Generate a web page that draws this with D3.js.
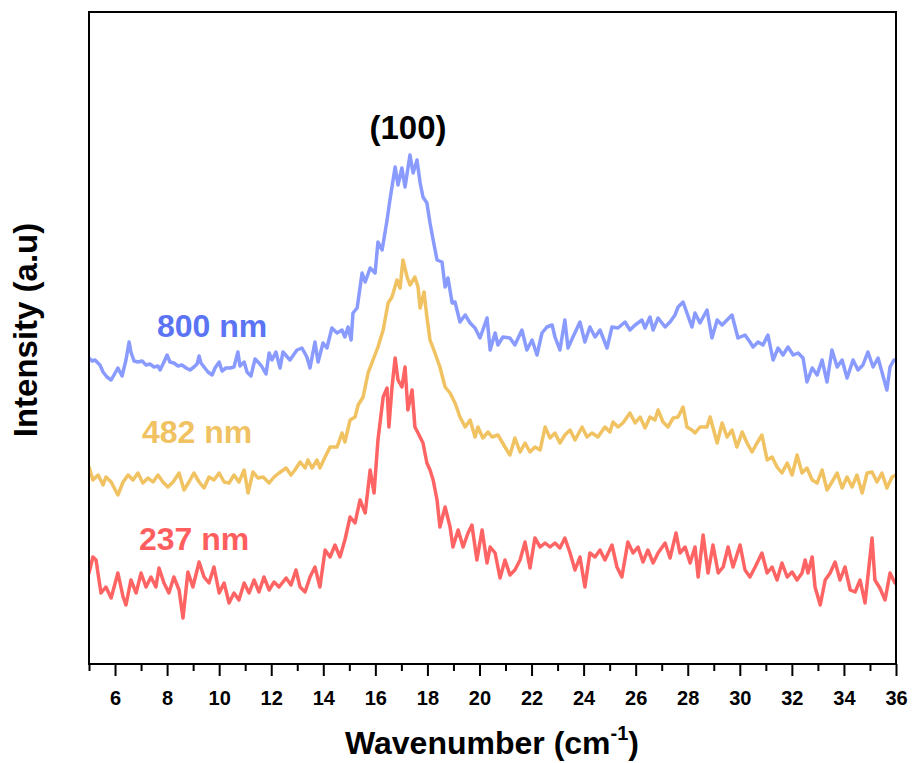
<!DOCTYPE html>
<html><head><meta charset="utf-8">
<script src="https://cdn.jsdelivr.net/npm/d3@7/dist/d3.min.js"></script>
<style>body{margin:0;background:#fff}svg{display:block;font-family:"Liberation Sans",Arial,sans-serif}</style>
</head><body><svg id="c" width="912" height="763"></svg>
<script>
const seriesNames = ["800 nm", "482 nm", "237 nm"];
const xTicksMajor = [6,8,10,12,14,16,18,20,22,24,26,28,30,32,34,36];
const xTicksMinor = [5,7,9,11,13,15,17,19,21,23,25,27,29,31,33,35];

const wn800 = [5.00,5.12,5.23,5.42,5.54,5.69,5.85,5.96,6.11,6.27,6.42,6.54,6.61,6.73,6.88,7.04,7.19,7.34,7.50,7.65,7.73,7.88,8.00,8.11,8.26,8.42,8.57,8.73,8.88,9.03,9.15,9.23,9.30,9.42,9.57,9.73,9.84,10.00,10.11,10.26,10.42,10.57,10.72,10.80,10.96,11.07,11.22,11.38,11.53,11.65,11.80,11.92,12.03,12.18,12.34,12.45,12.72,12.99,13.18,13.37,13.49,13.68,13.80,13.99,14.14,14.33,14.53,14.72,14.83,14.95,15.07,15.14,15.30,15.49,15.61,15.80,15.99,16.10,16.26,16.45,16.56,16.76,16.87,17.02,17.14,17.33,17.45,17.60,17.72,17.83,17.98,18.10,18.22,18.37,18.56,18.68,18.79,18.95,19.06,19.25,19.45,19.64,19.83,20.02,20.29,20.41,20.60,20.71,20.90,21.17,21.36,21.63,21.82,22.02,22.21,22.40,22.59,22.79,22.90,23.09,23.28,23.40,23.59,23.86,24.05,24.24,24.44,24.63,24.90,25.09,25.32,25.59,25.78,25.98,26.24,26.36,26.55,26.67,26.86,27.13,27.32,27.51,27.63,27.82,27.97,28.16,28.28,28.47,28.74,28.93,29.13,29.32,29.51,29.70,29.93,30.20,30.39,30.51,30.70,30.89,31.08,31.28,31.47,31.66,31.85,32.05,32.24,32.43,32.58,32.78,32.97,33.16,33.35,33.54,33.74,33.93,34.12,34.35,34.54,34.73,34.92,35.12,35.31,35.46,35.65,35.77,35.92,36.00];
const int800 = [306,303,304,299,292,287,284,289,296,288,304,322,312,303,302,303,299,300,297,298,294,302,309,302,301,298,299,296,294,297,300,308,301,297,292,289,296,302,293,296,296,297,312,298,302,292,288,305,301,297,290,311,304,312,296,312,304,314,316,307,296,322,302,321,316,336,331,334,327,337,324,351,356,391,382,396,391,422,414,444,464,497,479,496,477,509,491,504,481,467,461,441,424,404,402,377,386,361,362,342,349,341,336,326,346,314,331,319,327,326,319,334,314,324,309,331,337,339,327,314,344,316,327,342,322,337,327,334,316,337,336,342,334,339,344,336,347,334,346,337,342,349,357,362,351,337,351,341,354,326,344,339,344,349,326,329,322,317,322,319,329,304,316,309,317,309,311,306,282,296,289,304,282,314,297,304,286,304,294,299,312,297,306,292,274,297,304,304];

const wn482 = [5.00,5.15,5.35,5.54,5.65,5.85,6.11,6.31,6.50,6.69,6.88,7.07,7.27,7.46,7.65,7.84,8.03,8.23,8.46,8.65,8.84,9.03,9.23,9.42,9.61,9.80,10.00,10.19,10.38,10.57,10.76,10.96,11.11,11.30,11.49,11.69,11.92,12.11,12.30,12.57,12.76,12.91,13.11,13.30,13.41,13.57,13.76,13.87,14.07,14.26,14.53,14.72,14.83,15.03,15.22,15.34,15.53,15.72,15.91,16.10,16.30,16.49,16.64,16.83,16.95,17.06,17.22,17.33,17.52,17.64,17.72,17.87,17.98,18.10,18.29,18.48,18.68,18.87,19.06,19.25,19.45,19.64,19.83,19.94,20.13,20.33,20.48,20.71,20.98,21.17,21.36,21.56,21.75,21.94,22.13,22.33,22.52,22.71,22.90,23.09,23.28,23.48,23.67,23.94,24.13,24.32,24.55,24.82,25.01,25.13,25.32,25.51,25.78,25.98,26.17,26.36,26.55,26.74,26.86,27.05,27.24,27.44,27.63,27.82,27.97,28.16,28.28,28.47,28.74,28.86,29.13,29.32,29.51,29.70,29.89,30.09,30.28,30.47,30.66,30.85,31.05,31.24,31.43,31.62,31.82,32.01,32.20,32.39,32.58,32.78,32.97,33.16,33.35,33.54,33.74,33.93,34.12,34.31,34.50,34.70,34.89,35.08,35.27,35.46,35.65,35.85,36.00];
const int482 = [197,184,189,179,187,182,169,182,189,184,191,181,186,182,189,182,177,182,191,174,182,191,182,176,187,184,191,182,181,189,182,194,171,192,186,187,181,187,191,196,189,194,202,196,204,196,204,196,207,217,217,231,222,244,247,259,267,291,304,317,334,361,367,384,376,404,387,379,387,377,356,372,347,324,311,297,277,271,261,247,237,244,227,237,226,232,227,229,217,209,226,212,221,212,217,214,237,226,231,221,229,234,224,237,227,231,227,237,232,242,237,241,251,241,247,236,247,244,254,242,237,246,247,257,237,234,231,237,237,247,221,241,227,234,217,232,221,212,221,229,204,207,197,191,201,189,209,191,196,184,181,194,174,182,191,176,187,177,189,171,191,192,182,191,176,187,189];

const wn237 = [5.00,5.15,5.27,5.46,5.65,5.85,6.11,6.31,6.42,6.61,6.81,7.00,7.19,7.38,7.57,7.69,7.88,8.07,8.26,8.46,8.61,8.80,8.99,9.23,9.42,9.61,9.80,10.00,10.19,10.38,10.57,10.76,10.96,11.15,11.34,11.53,11.72,11.92,12.11,12.30,12.57,12.76,12.95,13.11,13.30,13.49,13.68,13.87,14.07,14.26,14.45,14.64,14.83,15.03,15.22,15.41,15.61,15.80,15.95,16.10,16.30,16.45,16.52,16.64,16.76,16.87,17.02,17.14,17.25,17.41,17.52,17.64,17.83,17.98,18.10,18.22,18.37,18.48,18.68,18.87,18.98,19.18,19.37,19.56,19.71,19.90,20.10,20.29,20.41,20.60,20.79,20.98,21.17,21.36,21.56,21.75,21.94,22.13,22.33,22.52,22.71,22.90,23.09,23.28,23.48,23.67,23.86,24.05,24.24,24.44,24.63,24.82,25.09,25.28,25.47,25.70,25.90,26.09,26.28,26.47,26.67,26.86,27.13,27.32,27.55,27.70,27.90,28.09,28.28,28.40,28.59,28.78,28.97,29.17,29.36,29.55,29.74,30.01,30.20,30.39,30.59,30.85,31.05,31.24,31.43,31.62,31.82,32.01,32.20,32.39,32.51,32.62,32.78,32.89,33.09,33.28,33.47,33.66,33.85,34.04,34.24,34.43,34.62,34.81,35.08,35.19,35.38,35.58,35.77,35.96];
const int237 = [91,107,104,71,77,66,91,67,59,84,71,91,77,87,77,96,81,71,87,74,46,92,77,102,87,81,97,71,81,61,71,64,81,71,84,72,87,74,82,77,86,79,94,77,72,87,97,77,114,107,119,107,124,147,141,164,151,194,171,224,267,276,237,277,306,284,277,297,254,274,237,231,221,201,194,184,164,137,157,137,117,134,117,131,139,104,134,101,117,111,86,104,89,94,104,122,96,126,117,121,117,121,116,126,111,94,107,77,111,107,114,104,119,97,87,122,111,117,102,114,101,111,121,106,131,111,117,101,117,87,129,91,119,91,97,117,97,119,94,87,97,111,91,97,84,101,87,92,84,91,104,91,107,77,59,84,91,102,84,97,74,72,84,61,126,84,76,64,91,81];

const lineColors = ["#8a9bff", "#f0c262", "#ff6464"];
const labelColors = ["#5b74f4", "#f0c262", "#ff5e5e"];

const svg = d3.select("#c");
const L = 89, R = 896, T = 12, B = 664;
const x = d3.scaleLinear().domain([5, 36]).range([L, R]);
const y = d3.scaleLinear().domain([0, 652]).range([B, T]);

svg.append("defs").append("clipPath").attr("id","clip")
  .append("rect").attr("x",L).attr("y",T).attr("width",R-L).attr("height",B-T);

const series = [
  {w: wn800, v: int800},
  {w: wn482, v: int482},
  {w: wn237, v: int237}
];
const line = d3.line().x(d => x(d[0])).y(d => y(d[1]));
const g = svg.append("g").attr("clip-path","url(#clip)");
series.forEach((s, i) => {
  const pts = s.w.map((w, j) => [w, s.v[j]]);
  g.append("path").attr("d", line(pts)).attr("fill","none")
    .attr("stroke", lineColors[i]).attr("stroke-width", 3.5)
    .attr("stroke-linejoin","round").attr("stroke-linecap","round");
});

// axes
const xAxis = d3.axisBottom(x).tickValues(xTicksMajor).tickSize(12).tickFormat(d3.format("d"));
const ax = svg.append("g").attr("transform", `translate(0,${B})`).call(xAxis);
ax.select(".domain").remove();
ax.selectAll(".tick line").attr("stroke","#000").attr("stroke-width",2);
ax.selectAll(".tick text").attr("font-size",20).attr("font-weight","bold").attr("fill","#000").attr("y",null).attr("dy",null)
  .attr("transform","translate(0,41)");
const axMinor = d3.axisBottom(x).tickValues(xTicksMinor).tickSize(7).tickFormat("");
const am = svg.append("g").attr("transform", `translate(0,${B})`).call(axMinor);
am.select(".domain").remove();
am.selectAll(".tick line").attr("stroke","#000").attr("stroke-width",2);

svg.append("rect").attr("x",L).attr("y",T).attr("width",R-L).attr("height",B-T)
  .attr("fill","none").attr("stroke","#000").attr("stroke-width",2);

// labels
const labelPos = [[157,337],[142,443],[139,550]];
seriesNames.forEach((n,i) => {
  svg.append("text").attr("x",labelPos[i][0]).attr("y",labelPos[i][1])
    .attr("font-size",32).attr("font-weight","bold").attr("fill",labelColors[i]).text(n);
});
svg.append("text").attr("x",408).attr("y",139).attr("text-anchor","middle")
  .attr("font-size",33).attr("font-weight","bold").attr("fill","#000").text("(100)");

const xt = svg.append("text").attr("x",492).attr("y",754).attr("text-anchor","middle")
  .attr("font-size",32).attr("font-weight","bold").attr("fill","#000");
xt.append("tspan").text("Wavenumber (cm");
xt.append("tspan").attr("font-size",20).attr("dy",-14).text("-1");
xt.append("tspan").attr("dy",14).text(")");

svg.append("text").attr("transform","translate(37,330) rotate(-90)").attr("text-anchor","middle")
  .attr("font-size",33).attr("font-weight","bold").attr("fill","#000").text("Intensity (a.u)");
</script></body></html>
